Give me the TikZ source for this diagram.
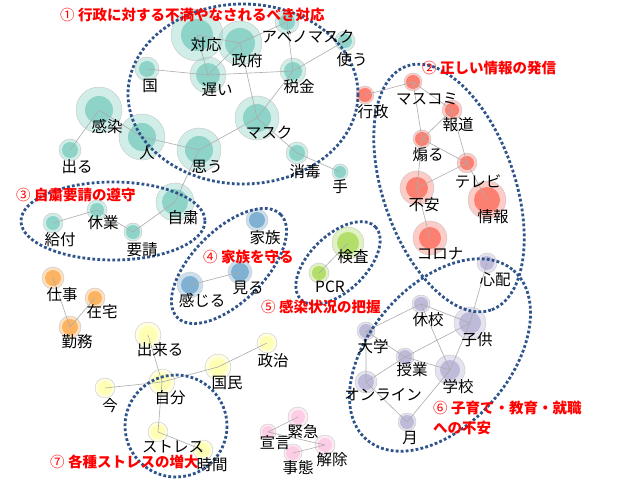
\documentclass[tikz,border=0pt]{standalone}
\usepackage{fontspec}
\newfontfamily\jp{Noto Sans CJK JP}

\definecolor{kwteal}{HTML}{8DD3C7}
\definecolor{kwsalmon}{HTML}{FB8072}
\definecolor{kwpurple}{HTML}{BEBADA}
\definecolor{kwblue}{HTML}{80B1D3}
\definecolor{kwgreen}{HTML}{B3DE69}
\definecolor{kworange}{HTML}{FDB462}
\definecolor{kwyellow}{HTML}{FFFFB3}
\definecolor{kwpink}{HTML}{FCCDE5}
\definecolor{grpblue}{RGB}{46,84,138}

\pgfdeclarelayer{front}
\pgfsetlayers{main,front}

% word: name, centre, halo radius, core radius, colour, label position, text
\newcommand{\kw}[7]{%
  \node[halo=#5, minimum size={2*#3}] (#1) at (#2) {};
  \fill[#5] (#1.center) circle (#4);
  \begin{pgfonlayer}{front}
    \node[word] (#1-t) at (#6) {#7};
  \end{pgfonlayer}
}

\begin{document}
\begin{tikzpicture}[x=1pt, y=-1pt,
  halo/.style={circle, inner sep=0pt, draw=gray!45, fill=#1, fill opacity=0.4},
  word/.style={inner sep=0pt, font=\jp\fontsize{15.5}{16}\selectfont},
  link/.style={draw=gray!65, line width=0.6pt},
  grp/.style={draw=grpblue, line width=2.8pt, dash pattern=on 2.8pt off 2.2pt},
  tag/.style={inner sep=0pt, text=red, font=\jp\bfseries\fontsize{14.5}{20}\selectfont}]
\fill[white] (0,0) rectangle (640,481);
\useasboundingbox (0,0) rectangle (640,481);

% group 1
\kw{taiou}{197,35}{26}{16}{kwteal}{206,45}{対応}
\kw{seifu}{240,43}{22}{15}{kwteal}{247,61}{政府}
\kw{abeno}{287,22}{12}{8}{kwteal}{308,37}{アベノマスク}
\kw{tsukau}{345,41}{10}{7}{kwteal}{352,60}{使う}
\kw{kuni}{147,69}{12}{8}{kwteal}{150,86}{国}
\kw{osoi}{208,75}{18}{12}{kwteal}{217,90}{遅い}
\kw{zeikin}{293,71}{13}{9}{kwteal}{299,87}{税金}
\kw{masuku}{257,118}{22}{14}{kwteal}{269,133}{マスク}
\kw{kansen}{99,110}{23}{14}{kwteal}{107,127}{感染}
\kw{hito}{142,137}{23}{14}{kwteal}{147,153}{人}
\kw{omou}{199,150}{22}{14}{kwteal}{207,167}{思う}
\kw{deru}{70,150}{11}{8}{kwteal}{77,167}{出る}
\kw{shodoku}{297,153}{11}{8}{kwteal}{305,172}{消毒}
\kw{te}{340,172}{8}{6}{kwteal}{340,187}{手}

% group 3
\kw{jishuku}{175,202}{19}{13}{kwteal}{183,218}{自粛}
\kw{kyugyo}{97,210}{10}{7}{kwteal}{103,223}{休業}
\kw{kyufu}{53,223}{10}{7}{kwteal}{60,240}{給付}
\kw{yosei}{133,232}{9}{7}{kwteal}{142,250}{要請}

% group 2
\kw{gyosei}{365,95}{9}{7}{kwsalmon}{373,112}{行政}
\kw{masukomi}{413,82}{9}{7}{kwsalmon}{427,99}{マスコミ}
\kw{hodo}{452,110}{10}{7}{kwsalmon}{458,125}{報道}
\kw{aoru}{422,139}{9}{7}{kwsalmon}{428,155}{煽る}
\kw{terebi}{467,163}{10}{7}{kwsalmon}{478,181}{テレビ}
\kw{fuan}{417,188}{17}{11}{kwsalmon}{424,205}{不安}
\kw{joho}{487,200}{19}{13}{kwsalmon}{493,217}{情報}
\kw{korona}{430,238}{17}{11}{kwsalmon}{440,254}{コロナ}

% group 6
\kw{shinpai}{487,263}{10}{7}{kwpurple}{495,280}{心配}
\kw{kyuko}{421,304}{9}{7}{kwpurple}{428,320}{休校}
\kw{kodomo}{470,323}{16}{11}{kwpurple}{477,340}{子供}
\kw{daigaku}{366,331}{9}{7}{kwpurple}{373,347}{大学}
\kw{jugyo}{405,357}{9}{7}{kwpurple}{412,370}{授業}
\kw{gakko}{450,370}{15}{10}{kwpurple}{458,387}{学校}
\kw{online}{366,382}{11}{8}{kwpurple}{383,395}{オンライン}
\kw{tsuki}{407,422}{9}{7}{kwpurple}{410,438}{月}

% group 4, 5
\kw{kazoku}{257,220}{11}{8}{kwblue}{265,238}{家族}
\kw{miru}{240,272}{12}{9}{kwblue}{248,288}{見る}
\kw{kanjiru}{190,285}{13}{9}{kwblue}{202,300}{感じる}
\kw{kensa}{348,243}{16}{11}{kwgreen}{353,257}{検査}
\kw{pcr}{319,273}{10}{7}{kwgreen}{330,287}{PCR}

% others
\kw{shigoto}{53,278}{11}{8}{kworange}{62,295}{仕事}
\kw{zaitaku}{95,298}{10}{7}{kworange}{102,312}{在宅}
\kw{kinmu}{70,327}{11}{8}{kworange}{77,342}{勤務}
\kw{dekiru}{148,335}{13}{9}{kwyellow}{160,350}{出来る}
\kw{seiji}{267,343}{10}{7}{kwyellow}{273,361}{政治}
\kw{kokumin}{218,367}{13}{9}{kwyellow}{227,383}{国民}
\kw{jibun}{162,382}{13}{9}{kwyellow}{170,398}{自分}
\kw{ima}{105,388}{10}{7}{kwyellow}{110,406}{今}
\kw{stress}{158,432}{10}{7}{kwyellow}{173,447}{ストレス}
\kw{jikan}{203,450}{10}{7}{kwyellow}{212,465}{時間}
\kw{kinkyu}{298,417}{10}{7}{kwpink}{303,432}{緊急}
\kw{sengen}{268,432}{8}{6}{kwpink}{275,443}{宣言}
\kw{kaijo}{325,445}{10}{7}{kwpink}{332,460}{解除}
\kw{jitai}{293,453}{9}{7}{kwpink}{298,468}{事態}

% links
\draw[link] (taiou.center) -- (seifu.center) (taiou.center) -- (osoi.center)
  (seifu.center) -- (osoi.center) (seifu.center) -- (masuku.center)
  (seifu.center) -- (abeno.center) (kuni.center) -- (osoi.center)
  (osoi.center) -- (zeikin.center) (zeikin.center) -- (abeno.center)
  (zeikin.center) -- (tsukau.center) (zeikin.center) -- (masuku.center)
  (masuku.center) -- (omou.center) (masuku.center) -- (shodoku.center)
  (shodoku.center) -- (te.center) (hito.center) -- (omou.center)
  (kansen.center) -- (hito.center) (kansen.center) -- (deru.center);
\draw[link] (omou.center) -- (jishuku.center) (jishuku.center) -- (yosei.center)
  (yosei.center) -- (kyugyo.center) (kyugyo.center) -- (kyufu.center);
\draw[link] (gyosei.center) -- (masukomi.center) (masukomi.center) -- (hodo.center)
  (masukomi.center) -- (aoru.center) (hodo.center) -- (aoru.center)
  (hodo.center) -- (terebi.center) (aoru.center) -- (terebi.center)
  (aoru.center) -- (fuan.center) (fuan.center) -- (terebi.center)
  (terebi.center) -- (joho.center) (fuan.center) -- (korona.center);
\draw[link] (shinpai.center) -- (kodomo.center) (kyuko.center) -- (daigaku.center)
  (kyuko.center) -- (kodomo.center) (kyuko.center) -- (gakko.center)
  (kodomo.center) -- (jugyo.center) (kodomo.center) -- (gakko.center)
  (daigaku.center) -- (jugyo.center) (daigaku.center) -- (online.center)
  (jugyo.center) -- (online.center) (jugyo.center) -- (gakko.center)
  (online.center) -- (tsuki.center) (tsuki.center) -- (gakko.center);
\draw[link] (kanjiru.center) -- (miru.center) (pcr.center) -- (kensa.center);
\draw[link] (shigoto.center) -- (kinmu.center) (zaitaku.center) -- (kinmu.center);
\draw[link] (dekiru.center) -- (jibun.center) (ima.center) -- (jibun.center)
  (jibun.center) -- (kokumin.center) (kokumin.center) -- (seiji.center)
  (jibun.center) -- (stress.center) (stress.center) -- (jikan.center);
\draw[link] (kinkyu.center) -- (sengen.center) (sengen.center) -- (kaijo.center)
  (jitai.center) -- (kaijo.center);

% groups
\draw[grp] (243,94) ellipse [x radius=115, y radius=90];
\draw[grp, rotate around={-71:(449,188)}] (449,188) ellipse [x radius=129, y radius=66];
\draw[grp] (113,221) ellipse [x radius=92, y radius=39];
\draw[grp, rotate around={45:(229,266)}] (229,266) ellipse [x radius=73, y radius=36];
\draw[grp, rotate around={44:(338,263)}] (338,263) ellipse [x radius=52, y radius=28];
\draw[grp, rotate around={49:(440,355)}] (440,355) ellipse [x radius=112, y radius=70];
\draw[grp] (176,426) circle (51);

\begin{pgfonlayer}{front}
\node[tag, anchor=west] (tag1) at (60,15) {{\mdseries ①} 行政に対する不満やなされるべき対応};
\node[tag, anchor=west] (tag2) at (422,68) {{\mdseries ②} 正しい情報の発信};
\node[tag, anchor=west] (tag3) at (16,195) {{\mdseries ③} 自粛要請の遵守};
\node[tag, anchor=west] (tag4) at (203,257) {{\mdseries ④} 家族を守る};
\node[tag, anchor=west] (tag5) at (261,307) {{\mdseries ⑤} 感染状況の把握};
\node[tag, anchor=north west, align=left] (tag6) at (433,401) {{\mdseries ⑥} 子育て・教育・就職\\への不安};
\node[tag, anchor=west] (tag7) at (50,462) {{\mdseries ⑦} 各種ストレスの増大};
\end{pgfonlayer}
\end{tikzpicture}
\end{document}
